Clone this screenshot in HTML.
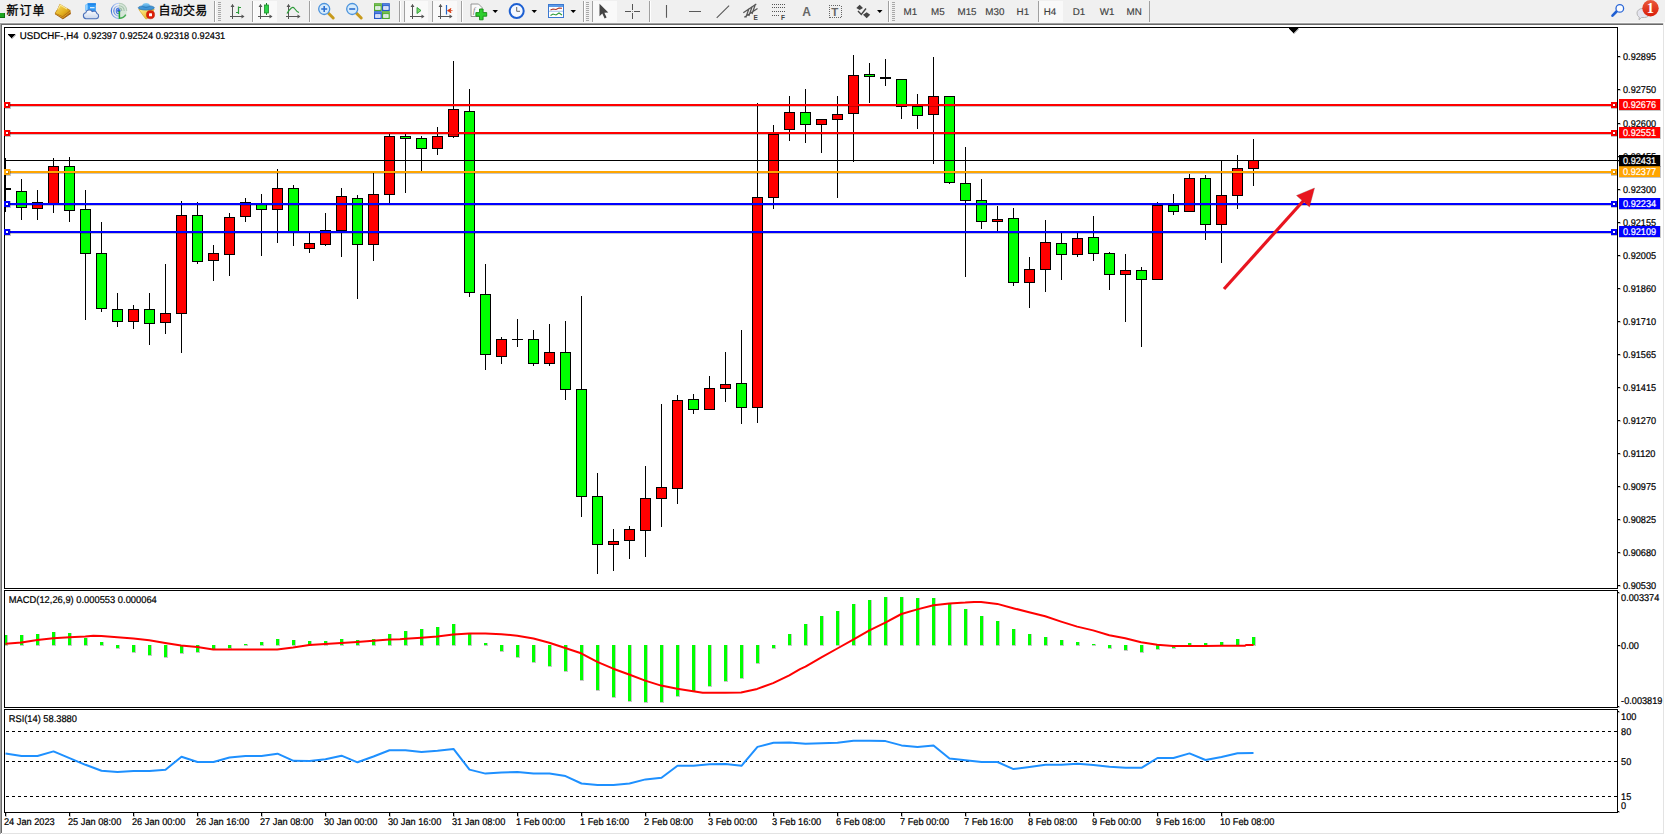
<!DOCTYPE html>
<html><head><meta charset="utf-8"><title>USDCHF-,H4</title>
<style>html,body{margin:0;padding:0;background:#fff;overflow:hidden}svg{display:block;font-family:"Liberation Sans","Noto Sans CJK SC",sans-serif}</style>
</head><body>
<svg width="1665" height="835" viewBox="0 0 1665 835">
<rect width="1665" height="835" fill="#fff"/>
<rect x="0" y="0" width="1665" height="23" fill="#f0f0f0"/>
<rect x="0" y="22" width="1665" height="1" fill="#f8f8f8"/>
<rect x="0" y="23" width="1663" height="1" fill="#a0a0a0"/>
<rect x="1" y="24" width="1662" height="1" fill="#696969"/>
<rect x="0" y="23" width="1" height="811" fill="#a0a0a0"/>
<rect x="1" y="24" width="1" height="809" fill="#696969"/>
<rect x="1663" y="23" width="1" height="811" fill="#e3e3e3"/>
<rect x="2" y="833" width="1662" height="1" fill="#e3e3e3"/>
<rect x="0" y="13" width="4" height="4" fill="#1fa51f"/><rect x="0" y="17" width="4" height="1" fill="#0f6f0f"/><rect x="4" y="13" width="1" height="5" fill="#0f6f0f"/>
<text x="6.5" y="14.8" font-size="12" fill="#000" letter-spacing="1.0" stroke="#000" stroke-width="0.3" font-family="Liberation Sans, Noto Sans CJK SC, sans-serif">新订单</text>
<defs><linearGradient id="gold" x1="0" y1="0" x2="1" y2="1"><stop offset="0" stop-color="#fbe36a"/><stop offset="0.6" stop-color="#e3b020"/><stop offset="1" stop-color="#b87510"/></linearGradient><linearGradient id="badge" x1="0" y1="0" x2="0" y2="1"><stop offset="0" stop-color="#ea5a3c"/><stop offset="1" stop-color="#d91c08"/></linearGradient><linearGradient id="hat" x1="0" y1="0" x2="0" y2="1"><stop offset="0" stop-color="#8fd0f5"/><stop offset="1" stop-color="#2d8fd6"/></linearGradient></defs>
<path d="M59.9 4.3 L70.3 10.4 L70.9 13.6 L62.9 18.9 L55 13.8 z" fill="#b06a10"/>
<path d="M59.9 4.3 L70.3 10.4 L62.7 16.6 L55 13.2 Q58.5 9 59.9 4.3 z" fill="url(#gold)" stroke="#b5780f" stroke-width="0.5"/>
<path d="M55.3 13.9 L62.8 17.6 L70.5 11.6" stroke="#e8b030" stroke-width="0.8" fill="none"/><path d="M55 13.8 L62.9 18.9 L70.9 13.6" stroke="#94560a" stroke-width="0.7" fill="none"/><path d="M57.5 9.5 Q59.5 7 60.3 5 L67 9" stroke="#fff3a8" stroke-width="1.2" fill="none" opacity=".8"/>
<path d="M85.3 5 L87.8 3.2 L95.8 3.2 L95.8 11 L87.6 11.5 L85.3 10.5 z" fill="#2f9af5"/>
<path d="M85.3 5 L87.8 3.2 L87.6 11.5 L85.3 10.5 z" fill="#9ad4ff"/>
<path d="M87.8 3.2 L95.8 3.2 L95.8 5.2 L87.7 5.2 z" fill="#1f86ea"/>
<rect x="90" y="7" width="4.6" height="1.3" fill="#d8efff"/>
<defs><linearGradient id="cloud" x1="0" y1="0" x2="0" y2="1"><stop offset="0" stop-color="#ffffff"/><stop offset="1" stop-color="#c9d6ec"/></linearGradient></defs>
<path d="M86 18.7 a3 3 0 0 1 -0.3 -5.9 a3.6 3.6 0 0 1 6.6 -1.2 a3 3 0 0 1 4.6 1.9 a2.7 2.7 0 0 1 -0.6 5.2 z" fill="url(#cloud)" stroke="#4a6fb8" stroke-width="1.1"/>
<defs><linearGradient id="sigL" x1="0" y1="0" x2="0" y2="1"><stop offset="0" stop-color="#b9cdf2"/><stop offset="0.5" stop-color="#3a6fd8"/><stop offset="1" stop-color="#9db8ec"/></linearGradient></defs>
<path d="M119 3 a7.9 7.9 0 0 1 0 15.8 z" fill="#cfe3d3" opacity=".75"/>
<g fill="none" stroke-width="1.1"><path d="M119 3.2 a7.7 7.7 0 0 0 0 15.4" stroke="url(#sigL)"/><path d="M119 5.7 a5.2 5.2 0 0 0 0 10.4" stroke="url(#sigL)"/><path d="M119 8.1 a2.8 2.8 0 0 0 0 5.6" stroke="#4a7be0"/><path d="M119 3.2 a7.7 7.7 0 0 1 7.7 7.7" stroke="#b5cdb9"/><path d="M119 5.7 a5.2 5.2 0 0 1 5.2 5.2" stroke="#a5c4ab"/><path d="M119 8.1 a2.8 2.8 0 0 1 2.8 2.8" stroke="#9fbfa6"/></g>
<path d="M119.4 18.3 A7.4 7.4 0 0 0 125.8 14.6" stroke="#35a545" stroke-width="1.5" fill="none" opacity=".9"/>
<circle cx="118.8" cy="10.7" r="1.7" fill="#2a5fd4"/><path d="M119.4 11 V18.8" stroke="#22a535" stroke-width="1.5" fill="none"/>
<defs><linearGradient id="yel" x1="0" y1="0" x2="1" y2="1"><stop offset="0" stop-color="#fff08a"/><stop offset="1" stop-color="#e2a818"/></linearGradient></defs>
<path d="M138.8 9.5 L154.2 9.5 L147.2 18.8 L145.6 18.8 z" fill="url(#yel)" stroke="#d09a10" stroke-width="0.6"/>
<ellipse cx="146.3" cy="7.8" rx="8.1" ry="2.3" fill="#3f95d6" stroke="#2a6fa8" stroke-width="0.6"/><ellipse cx="146.1" cy="5.4" rx="3.7" ry="2.5" fill="url(#hat)"/><path d="M142.4 6.4 Q146 8.6 149.8 6.4" stroke="#2a6fa8" stroke-width="0.6" fill="none"/>
<circle cx="150.5" cy="14.7" r="4.1" fill="#dc2008" stroke="#b81a05" stroke-width="0.5"/><rect x="149" y="13.2" width="3" height="3" rx="0.5" fill="#fff"/>
<text x="158.6" y="14.8" font-size="12" fill="#000" letter-spacing="0.25" stroke="#000" stroke-width="0.3" font-family="Liberation Sans, Noto Sans CJK SC, sans-serif">自动交易</text>
<rect x="214" y="1" width="1" height="21" fill="#a0a0a0"/><rect x="215" y="1" width="1" height="21" fill="#fff"/>
<rect x="218" y="2" width="3" height="1" fill="#a8a8a8"/>
<rect x="218" y="4" width="3" height="1" fill="#a8a8a8"/>
<rect x="218" y="6" width="3" height="1" fill="#a8a8a8"/>
<rect x="218" y="8" width="3" height="1" fill="#a8a8a8"/>
<rect x="218" y="10" width="3" height="1" fill="#a8a8a8"/>
<rect x="218" y="12" width="3" height="1" fill="#a8a8a8"/>
<rect x="218" y="14" width="3" height="1" fill="#a8a8a8"/>
<rect x="218" y="16" width="3" height="1" fill="#a8a8a8"/>
<rect x="218" y="18" width="3" height="1" fill="#a8a8a8"/>
<rect x="218" y="20" width="3" height="1" fill="#a8a8a8"/>
<path d="M232.5 19 V4.5 M230.0 16.5 H243.5" stroke="#555" stroke-width="1" fill="none"/>
<path d="M230.5 7 L232.5 4 L234.5 7 z M241.5 14.5 L244.5 16.5 L241.5 18.5 z" fill="#555"/>
<path d="M238.5 6.5 V14 M236 12.5 H238.5 M238.5 7.5 H241" stroke="#2e9b3a" stroke-width="1.2" fill="none"/>
<rect x="252" y="1" width="1" height="21" fill="#a0a0a0"/><rect x="253" y="1" width="1" height="21" fill="#fff"/>
<rect x="254" y="1" width="23" height="21" fill="#f9f9f9"/>
<path d="M260.5 19 V4.5 M258.0 16.5 H271.5" stroke="#555" stroke-width="1" fill="none"/>
<path d="M258.5 7 L260.5 4 L262.5 7 z M269.5 14.5 L272.5 16.5 L269.5 18.5 z" fill="#555"/>
<path d="M266.5 3 V15" stroke="#1d7a2a" stroke-width="1"/><rect x="264.5" y="5" width="4" height="8" fill="#2fd44a" stroke="#1d8a2a" stroke-width="0.8"/>
<path d="M288.5 19 V4.5 M286.0 16.5 H299.5" stroke="#555" stroke-width="1" fill="none"/>
<path d="M286.5 7 L288.5 4 L290.5 7 z M297.5 14.5 L300.5 16.5 L297.5 18.5 z" fill="#555"/>
<path d="M287 13.5 Q292 5 294.5 8.5 T299 12.5" stroke="#2e9b3a" stroke-width="1.2" fill="none"/>
<rect x="309" y="1" width="1" height="21" fill="#a0a0a0"/><rect x="310" y="1" width="1" height="21" fill="#fff"/>
<path d="M328.2 13 L333.2 18" stroke="#c79a1c" stroke-width="3" stroke-linecap="round"/>
<circle cx="324.2" cy="9" r="5.5" fill="#d6ebfb" stroke="#4c93dc" stroke-width="1.3"/>
<path d="M321.2 9 H327.2 M324.2 6 V12" stroke="#2b6fd0" stroke-width="1.6"/>
<path d="M356.2 13 L361.2 18" stroke="#c79a1c" stroke-width="3" stroke-linecap="round"/>
<circle cx="352.2" cy="9" r="5.5" fill="#d6ebfb" stroke="#4c93dc" stroke-width="1.3"/>
<path d="M349.2 9 H355.2" stroke="#2b6fd0" stroke-width="1.6"/>
<rect x="374" y="3.2" width="7.8" height="7.8" fill="#4fa62d"/><rect x="374.6" y="3.8000000000000003" width="6.6" height="1.6" fill="#8fd06a" opacity=".6"/><rect x="375.2" y="6.2" width="5.4" height="3.6" fill="#f4f7ff"/><rect x="376.2" y="7.6000000000000005" width="3.4" height="0.8" fill="#4fa62d" opacity=".45"/>
<rect x="382" y="3.2" width="7.8" height="7.8" fill="#2457c8"/><rect x="382.6" y="3.8000000000000003" width="6.6" height="1.6" fill="#6f9cf0" opacity=".6"/><rect x="383.2" y="6.2" width="5.4" height="3.6" fill="#f4f7ff"/><rect x="384.2" y="7.6000000000000005" width="3.4" height="0.8" fill="#2457c8" opacity=".45"/>
<rect x="374" y="11.2" width="7.8" height="7.8" fill="#2457c8"/><rect x="374.6" y="11.799999999999999" width="6.6" height="1.6" fill="#6f9cf0" opacity=".6"/><rect x="375.2" y="14.2" width="5.4" height="3.6" fill="#f4f7ff"/><rect x="376.2" y="15.6" width="3.4" height="0.8" fill="#2457c8" opacity=".45"/>
<rect x="382" y="11.2" width="7.8" height="7.8" fill="#4fa62d"/><rect x="382.6" y="11.799999999999999" width="6.6" height="1.6" fill="#8fd06a" opacity=".6"/><rect x="383.2" y="14.2" width="5.4" height="3.6" fill="#f4f7ff"/><rect x="384.2" y="15.6" width="3.4" height="0.8" fill="#4fa62d" opacity=".45"/>
<rect x="399" y="1" width="1" height="21" fill="#a0a0a0"/><rect x="400" y="1" width="1" height="21" fill="#fff"/>
<rect x="404" y="1" width="1" height="21" fill="#a0a0a0"/>
<rect x="405" y="1" width="23" height="21" fill="#f9f9f9"/>
<path d="M412.5 19 V4.5 M410.0 16.5 H423.5" stroke="#555" stroke-width="1" fill="none"/>
<path d="M410.5 7 L412.5 4 L414.5 7 z M421.5 14.5 L424.5 16.5 L421.5 18.5 z" fill="#555"/>
<path d="M417 7.5 L421 10.5 L417 13.5 z" fill="#7fdc6a" stroke="#2e9b3a" stroke-width="0.9"/>
<rect x="432" y="1" width="1" height="21" fill="#a0a0a0"/><rect x="433" y="1" width="1" height="21" fill="#fff"/>
<rect x="433" y="1" width="24" height="21" fill="#f9f9f9"/>
<path d="M440.5 19 V4.5 M438.0 16.5 H451.5" stroke="#555" stroke-width="1" fill="none"/>
<path d="M438.5 7 L440.5 4 L442.5 7 z M449.5 14.5 L452.5 16.5 L449.5 18.5 z" fill="#555"/>
<path d="M446.5 5 V14.5" stroke="#2468c8" stroke-width="1.2"/><path d="M447.5 10.6 L451 8.5 L450 10.6 L451 12.8 z M449 10.6 H452.5" fill="#d83a10" stroke="#d83a10" stroke-width="0.8"/>
<rect x="461" y="1" width="1" height="21" fill="#a0a0a0"/><rect x="462" y="1" width="1" height="21" fill="#fff"/>
<path d="M471 4 H478.5 L482 7.5 V16.5 H471 z" fill="#fafafa" stroke="#8a8a8a" stroke-width="0.9"/><text x="473" y="13" font-size="8" font-style="italic" fill="#777" font-family="Liberation Serif, serif">f</text>
<path d="M479.5 9 h3.6 v3.6 h3.6 v3.6 h-3.6 v3.6 h-3.6 v-3.6 h-3.6 v-3.6 h3.6 z" fill="#2fcf2f" stroke="#168a16" stroke-width="0.9"/>
<path d="M492.5 10 h5.5 l-2.75 3 z" fill="#000"/>
<circle cx="516.7" cy="11.1" r="7" fill="#f4f8ff" stroke="#1c5fd2" stroke-width="2"/><path d="M516.7 7 V11.3 H520" stroke="#666" stroke-width="1" fill="none"/>
<path d="M531.5 10 h5.5 l-2.75 3 z" fill="#000"/>
<rect x="548.5" y="4.5" width="15" height="13" fill="#fff" stroke="#3b78d0" stroke-width="1"/><rect x="549" y="5" width="14" height="2" fill="#5c9be8"/><rect x="549" y="10.8" width="14" height="0.8" fill="#8fb4e8"/>
<path d="M550.5 10 L553 9 L556 9.5 L559 8 L562 8.3" stroke="#b03020" stroke-width="1.1" fill="none"/><path d="M550.5 15.5 L553 14 L556 15 L559 13 L562 15" stroke="#2e9b3a" stroke-width="1.1" fill="none"/>
<path d="M570.5 10 h5.5 l-2.75 3 z" fill="#000"/>
<rect x="583" y="1" width="1" height="21" fill="#a0a0a0"/><rect x="584" y="1" width="1" height="21" fill="#fff"/>
<rect x="586" y="2" width="3" height="1" fill="#a8a8a8"/>
<rect x="586" y="4" width="3" height="1" fill="#a8a8a8"/>
<rect x="586" y="6" width="3" height="1" fill="#a8a8a8"/>
<rect x="586" y="8" width="3" height="1" fill="#a8a8a8"/>
<rect x="586" y="10" width="3" height="1" fill="#a8a8a8"/>
<rect x="586" y="12" width="3" height="1" fill="#a8a8a8"/>
<rect x="586" y="14" width="3" height="1" fill="#a8a8a8"/>
<rect x="586" y="16" width="3" height="1" fill="#a8a8a8"/>
<rect x="586" y="18" width="3" height="1" fill="#a8a8a8"/>
<rect x="586" y="20" width="3" height="1" fill="#a8a8a8"/>
<rect x="592" y="1" width="1" height="21" fill="#a0a0a0"/>
<rect x="593" y="1" width="24" height="21" fill="#f9f9f9"/>
<path d="M599.5 3.8 V16.2 L602.3 13.6 L604.6 18.4 L606.6 17.5 L604.4 12.8 L608.3 12.6 z" fill="#444"/>
<path d="M625 11.5 H631 M634 11.5 H640 M632.5 4 V10 M632.5 13 V19" stroke="#555" stroke-width="1"/><rect x="632" y="11" width="1" height="1" fill="#999"/>
<rect x="649" y="1" width="1" height="21" fill="#a0a0a0"/><rect x="650" y="1" width="1" height="21" fill="#fff"/>
<path d="M666.5 5 V17.7 M689 11.5 H701 M716.7 17.9 L729.1 5.7" stroke="#5a5a5a" stroke-width="1.1" fill="none"/>
<path d="M743.3 12.8 L756.3 4 M744.3 17.3 L757.5 8.6 M745.8 17.5 L749 8.5 M748.8 16 L752.2 6.5 M752 14 L755.3 4.5" stroke="#555" stroke-width="1.25" fill="none"/><text x="753.5" y="19.5" font-size="6.5" font-weight="bold" fill="#444" font-family="Liberation Sans, sans-serif">E</text>
<path d="M772 4.5 h13" stroke="#555" stroke-width="1" stroke-dasharray="1 1" shape-rendering="crispEdges"/>
<path d="M772 7.5 h13" stroke="#555" stroke-width="1" stroke-dasharray="1 1" shape-rendering="crispEdges"/>
<path d="M772 11.5 h13" stroke="#555" stroke-width="1" stroke-dasharray="1 1" shape-rendering="crispEdges"/>
<path d="M772 15.5 h8" stroke="#555" stroke-width="1" stroke-dasharray="1 1" shape-rendering="crispEdges"/>
<text x="781" y="19.5" font-size="6.5" font-weight="bold" fill="#444" font-family="Liberation Sans, sans-serif">F</text>
<text x="802.3" y="15.8" font-size="12" font-weight="bold" fill="#666" font-family="Liberation Sans, sans-serif">A</text>
<rect x="829" y="5.5" width="12" height="12" fill="none" stroke="#666" stroke-width="1" stroke-dasharray="1 1" shape-rendering="crispEdges"/><text x="831.3" y="15.8" font-size="11.5" font-weight="bold" fill="#666" font-family="Liberation Sans, sans-serif">T</text>
<path d="M856.3 8 L859.7 4.8 L863 8 L859.7 10 z M863 14.8 L866.7 12.3 L870.2 14.8 L866.7 18.3 z" fill="#444"/><path d="M858 11 L861.3 14.5 L866 8.5" stroke="#444" stroke-width="1.4" fill="none"/>
<path d="M877 10 h5.5 l-2.75 3 z" fill="#000"/>
<rect x="888" y="1" width="1" height="21" fill="#a0a0a0"/><rect x="889" y="1" width="1" height="21" fill="#fff"/>
<rect x="892" y="2" width="3" height="1" fill="#a8a8a8"/>
<rect x="892" y="4" width="3" height="1" fill="#a8a8a8"/>
<rect x="892" y="6" width="3" height="1" fill="#a8a8a8"/>
<rect x="892" y="8" width="3" height="1" fill="#a8a8a8"/>
<rect x="892" y="10" width="3" height="1" fill="#a8a8a8"/>
<rect x="892" y="12" width="3" height="1" fill="#a8a8a8"/>
<rect x="892" y="14" width="3" height="1" fill="#a8a8a8"/>
<rect x="892" y="16" width="3" height="1" fill="#a8a8a8"/>
<rect x="892" y="18" width="3" height="1" fill="#a8a8a8"/>
<rect x="892" y="20" width="3" height="1" fill="#a8a8a8"/>
<rect x="1039" y="1" width="24" height="21" fill="#f9f9f9"/>
<rect x="1038" y="1" width="1" height="21" fill="#a0a0a0"/>
<rect x="1149" y="1" width="1" height="21" fill="#a0a0a0"/>
<text x="903.5" y="15" font-size="9.8" fill="#404040" stroke="#404040" stroke-width="0.15" text-rendering="geometricPrecision" font-family="Liberation Sans, sans-serif">M1</text>
<text x="931" y="15" font-size="9.8" fill="#404040" stroke="#404040" stroke-width="0.15" text-rendering="geometricPrecision" font-family="Liberation Sans, sans-serif">M5</text>
<text x="957.5" y="15" font-size="9.8" fill="#404040" stroke="#404040" stroke-width="0.15" text-rendering="geometricPrecision" font-family="Liberation Sans, sans-serif">M15</text>
<text x="985.3" y="15" font-size="9.8" fill="#404040" stroke="#404040" stroke-width="0.15" text-rendering="geometricPrecision" font-family="Liberation Sans, sans-serif">M30</text>
<text x="1016.6" y="15" font-size="9.8" fill="#404040" stroke="#404040" stroke-width="0.15" text-rendering="geometricPrecision" font-family="Liberation Sans, sans-serif">H1</text>
<text x="1043.7" y="15" font-size="9.8" fill="#404040" stroke="#404040" stroke-width="0.15" text-rendering="geometricPrecision" font-family="Liberation Sans, sans-serif">H4</text>
<text x="1072.7" y="15" font-size="9.8" fill="#404040" stroke="#404040" stroke-width="0.15" text-rendering="geometricPrecision" font-family="Liberation Sans, sans-serif">D1</text>
<text x="1099.8" y="15" font-size="9.8" fill="#404040" stroke="#404040" stroke-width="0.15" text-rendering="geometricPrecision" font-family="Liberation Sans, sans-serif">W1</text>
<text x="1126.5" y="15" font-size="9.8" fill="#404040" stroke="#404040" stroke-width="0.15" text-rendering="geometricPrecision" font-family="Liberation Sans, sans-serif">MN</text>
<path d="M1616.5 11.5 L1612.5 15.7" stroke="#1f5fd2" stroke-width="2.6" stroke-linecap="round"/><circle cx="1619.8" cy="8.4" r="3.8" fill="#fafcff" stroke="#2a66d6" stroke-width="1.3"/>
<path d="M1637 13 a5.5 4.5 0 0 1 5.5 -4.5 h2 a5.5 4.5 0 0 1 0 9 h-3 l-2.5 2.3 l0.3 -2.6 a5 4.5 0 0 1 -2.3 -4.2 z" fill="#e4e4ee" stroke="#aaa" stroke-width="0.8"/>
<circle cx="1650.5" cy="8.3" r="8.2" fill="url(#badge)"/><text x="1650.4" y="13.1" font-size="14.5" font-weight="bold" fill="#fff" text-anchor="middle" font-family="Liberation Serif, serif">1</text>
<g shape-rendering="crispEdges">
<rect x="4" y="27" width="1614" height="1" fill="#000"/>
<rect x="4" y="588" width="1614" height="1" fill="#000"/>
<rect x="4" y="27" width="1" height="562" fill="#000"/>
<rect x="1617" y="27" width="1" height="562" fill="#000"/>
<rect x="4" y="590" width="1614" height="1" fill="#000"/>
<rect x="4" y="707" width="1614" height="1" fill="#000"/>
<rect x="4" y="590" width="1" height="118" fill="#000"/>
<rect x="1617" y="590" width="1" height="118" fill="#000"/>
<rect x="4" y="709" width="1614" height="1" fill="#000"/>
<rect x="4" y="812" width="1614" height="1" fill="#000"/>
<rect x="4" y="709" width="1" height="104" fill="#000"/>
<rect x="1617" y="709" width="1" height="104" fill="#000"/>
<g id="candles">
<rect x="5" y="158" width="1" height="54" fill="#000"/>
<rect x="5" y="188" width="6" height="2" fill="#000"/>
<rect x="21" y="179" width="1" height="41" fill="#000"/>
<rect x="16" y="191" width="11" height="17" fill="#000"/>
<rect x="17" y="192" width="9" height="15" fill="#00ff00"/>
<rect x="37" y="190" width="1" height="30" fill="#000"/>
<rect x="32" y="202" width="11" height="7" fill="#000"/>
<rect x="33" y="203" width="9" height="5" fill="#ff0000"/>
<rect x="53" y="158" width="1" height="55" fill="#000"/>
<rect x="48" y="166" width="11" height="38" fill="#000"/>
<rect x="49" y="167" width="9" height="36" fill="#ff0000"/>
<rect x="69" y="157" width="1" height="65" fill="#000"/>
<rect x="64" y="166" width="11" height="45" fill="#000"/>
<rect x="65" y="167" width="9" height="43" fill="#00ff00"/>
<rect x="85" y="190" width="1" height="130" fill="#000"/>
<rect x="80" y="209" width="11" height="45" fill="#000"/>
<rect x="81" y="210" width="9" height="43" fill="#00ff00"/>
<rect x="101" y="222" width="1" height="90" fill="#000"/>
<rect x="96" y="253" width="11" height="56" fill="#000"/>
<rect x="97" y="254" width="9" height="54" fill="#00ff00"/>
<rect x="117" y="293" width="1" height="34" fill="#000"/>
<rect x="112" y="309" width="11" height="13" fill="#000"/>
<rect x="113" y="310" width="9" height="11" fill="#00ff00"/>
<rect x="133" y="305" width="1" height="24" fill="#000"/>
<rect x="128" y="309" width="11" height="13" fill="#000"/>
<rect x="129" y="310" width="9" height="11" fill="#ff0000"/>
<rect x="149" y="293" width="1" height="52" fill="#000"/>
<rect x="144" y="309" width="11" height="15" fill="#000"/>
<rect x="145" y="310" width="9" height="13" fill="#00ff00"/>
<rect x="165" y="264" width="1" height="70" fill="#000"/>
<rect x="160" y="313" width="11" height="10" fill="#000"/>
<rect x="161" y="314" width="9" height="8" fill="#ff0000"/>
<rect x="181" y="201" width="1" height="152" fill="#000"/>
<rect x="176" y="215" width="11" height="99" fill="#000"/>
<rect x="177" y="216" width="9" height="97" fill="#ff0000"/>
<rect x="197" y="202" width="1" height="62" fill="#000"/>
<rect x="192" y="215" width="11" height="47" fill="#000"/>
<rect x="193" y="216" width="9" height="45" fill="#00ff00"/>
<rect x="213" y="245" width="1" height="36" fill="#000"/>
<rect x="208" y="253" width="11" height="8" fill="#000"/>
<rect x="209" y="254" width="9" height="6" fill="#ff0000"/>
<rect x="229" y="213" width="1" height="63" fill="#000"/>
<rect x="224" y="217" width="11" height="38" fill="#000"/>
<rect x="225" y="218" width="9" height="36" fill="#ff0000"/>
<rect x="245" y="198" width="1" height="24" fill="#000"/>
<rect x="240" y="202" width="11" height="15" fill="#000"/>
<rect x="241" y="203" width="9" height="13" fill="#ff0000"/>
<rect x="261" y="194" width="1" height="62" fill="#000"/>
<rect x="256" y="203" width="11" height="7" fill="#000"/>
<rect x="257" y="204" width="9" height="5" fill="#00ff00"/>
<rect x="277" y="169" width="1" height="74" fill="#000"/>
<rect x="272" y="188" width="11" height="22" fill="#000"/>
<rect x="273" y="189" width="9" height="20" fill="#ff0000"/>
<rect x="293" y="185" width="1" height="61" fill="#000"/>
<rect x="288" y="188" width="11" height="44" fill="#000"/>
<rect x="289" y="189" width="9" height="42" fill="#00ff00"/>
<rect x="309" y="232" width="1" height="21" fill="#000"/>
<rect x="304" y="243" width="11" height="6" fill="#000"/>
<rect x="305" y="244" width="9" height="4" fill="#ff0000"/>
<rect x="325" y="213" width="1" height="33" fill="#000"/>
<rect x="320" y="230" width="11" height="15" fill="#000"/>
<rect x="321" y="231" width="9" height="13" fill="#ff0000"/>
<rect x="341" y="188" width="1" height="69" fill="#000"/>
<rect x="336" y="196" width="11" height="35" fill="#000"/>
<rect x="337" y="197" width="9" height="33" fill="#ff0000"/>
<rect x="357" y="195" width="1" height="104" fill="#000"/>
<rect x="352" y="198" width="11" height="47" fill="#000"/>
<rect x="353" y="199" width="9" height="45" fill="#00ff00"/>
<rect x="373" y="173" width="1" height="88" fill="#000"/>
<rect x="368" y="194" width="11" height="51" fill="#000"/>
<rect x="369" y="195" width="9" height="49" fill="#ff0000"/>
<rect x="389" y="134" width="1" height="69" fill="#000"/>
<rect x="384" y="136" width="11" height="59" fill="#000"/>
<rect x="385" y="137" width="9" height="57" fill="#ff0000"/>
<rect x="405" y="134" width="1" height="59" fill="#000"/>
<rect x="400" y="136" width="11" height="3" fill="#000"/>
<rect x="401" y="137" width="9" height="1" fill="#00ff00"/>
<rect x="421" y="136" width="1" height="35" fill="#000"/>
<rect x="416" y="138" width="11" height="11" fill="#000"/>
<rect x="417" y="139" width="9" height="9" fill="#00ff00"/>
<rect x="437" y="127" width="1" height="28" fill="#000"/>
<rect x="432" y="136" width="11" height="13" fill="#000"/>
<rect x="433" y="137" width="9" height="11" fill="#ff0000"/>
<rect x="453" y="61" width="1" height="77" fill="#000"/>
<rect x="448" y="109" width="11" height="28" fill="#000"/>
<rect x="449" y="110" width="9" height="26" fill="#ff0000"/>
<rect x="469" y="89" width="1" height="208" fill="#000"/>
<rect x="464" y="111" width="11" height="182" fill="#000"/>
<rect x="465" y="112" width="9" height="180" fill="#00ff00"/>
<rect x="485" y="264" width="1" height="106" fill="#000"/>
<rect x="480" y="294" width="11" height="61" fill="#000"/>
<rect x="481" y="295" width="9" height="59" fill="#00ff00"/>
<rect x="501" y="337" width="1" height="27" fill="#000"/>
<rect x="496" y="339" width="11" height="18" fill="#000"/>
<rect x="497" y="340" width="9" height="16" fill="#ff0000"/>
<rect x="517" y="319" width="1" height="28" fill="#000"/>
<rect x="512" y="339" width="11" height="1" fill="#000"/>
<rect x="533" y="330" width="1" height="36" fill="#000"/>
<rect x="528" y="339" width="11" height="25" fill="#000"/>
<rect x="529" y="340" width="9" height="23" fill="#00ff00"/>
<rect x="549" y="324" width="1" height="42" fill="#000"/>
<rect x="544" y="352" width="11" height="12" fill="#000"/>
<rect x="545" y="353" width="9" height="10" fill="#ff0000"/>
<rect x="565" y="321" width="1" height="79" fill="#000"/>
<rect x="560" y="352" width="11" height="38" fill="#000"/>
<rect x="561" y="353" width="9" height="36" fill="#00ff00"/>
<rect x="581" y="296" width="1" height="221" fill="#000"/>
<rect x="576" y="389" width="11" height="108" fill="#000"/>
<rect x="577" y="390" width="9" height="106" fill="#00ff00"/>
<rect x="597" y="473" width="1" height="101" fill="#000"/>
<rect x="592" y="496" width="11" height="49" fill="#000"/>
<rect x="593" y="497" width="9" height="47" fill="#00ff00"/>
<rect x="613" y="529" width="1" height="42" fill="#000"/>
<rect x="608" y="541" width="11" height="4" fill="#000"/>
<rect x="609" y="542" width="9" height="2" fill="#ff0000"/>
<rect x="629" y="526" width="1" height="33" fill="#000"/>
<rect x="624" y="529" width="11" height="12" fill="#000"/>
<rect x="625" y="530" width="9" height="10" fill="#ff0000"/>
<rect x="645" y="466" width="1" height="91" fill="#000"/>
<rect x="640" y="498" width="11" height="33" fill="#000"/>
<rect x="641" y="499" width="9" height="31" fill="#ff0000"/>
<rect x="661" y="404" width="1" height="123" fill="#000"/>
<rect x="656" y="487" width="11" height="12" fill="#000"/>
<rect x="657" y="488" width="9" height="10" fill="#ff0000"/>
<rect x="677" y="395" width="1" height="109" fill="#000"/>
<rect x="672" y="400" width="11" height="89" fill="#000"/>
<rect x="673" y="401" width="9" height="87" fill="#ff0000"/>
<rect x="693" y="394" width="1" height="20" fill="#000"/>
<rect x="688" y="399" width="11" height="11" fill="#000"/>
<rect x="689" y="400" width="9" height="9" fill="#00ff00"/>
<rect x="709" y="376" width="1" height="34" fill="#000"/>
<rect x="704" y="388" width="11" height="22" fill="#000"/>
<rect x="705" y="389" width="9" height="20" fill="#ff0000"/>
<rect x="725" y="352" width="1" height="50" fill="#000"/>
<rect x="720" y="384" width="11" height="5" fill="#000"/>
<rect x="721" y="385" width="9" height="3" fill="#ff0000"/>
<rect x="741" y="330" width="1" height="94" fill="#000"/>
<rect x="736" y="383" width="11" height="25" fill="#000"/>
<rect x="737" y="384" width="9" height="23" fill="#00ff00"/>
<rect x="757" y="103" width="1" height="320" fill="#000"/>
<rect x="752" y="197" width="11" height="211" fill="#000"/>
<rect x="753" y="198" width="9" height="209" fill="#ff0000"/>
<rect x="773" y="125" width="1" height="84" fill="#000"/>
<rect x="768" y="134" width="11" height="64" fill="#000"/>
<rect x="769" y="135" width="9" height="62" fill="#ff0000"/>
<rect x="789" y="96" width="1" height="45" fill="#000"/>
<rect x="784" y="112" width="11" height="18" fill="#000"/>
<rect x="785" y="113" width="9" height="16" fill="#ff0000"/>
<rect x="805" y="89" width="1" height="54" fill="#000"/>
<rect x="800" y="112" width="11" height="13" fill="#000"/>
<rect x="801" y="113" width="9" height="11" fill="#00ff00"/>
<rect x="821" y="119" width="1" height="34" fill="#000"/>
<rect x="816" y="119" width="11" height="6" fill="#000"/>
<rect x="817" y="120" width="9" height="4" fill="#ff0000"/>
<rect x="837" y="96" width="1" height="102" fill="#000"/>
<rect x="832" y="114" width="11" height="6" fill="#000"/>
<rect x="833" y="115" width="9" height="4" fill="#ff0000"/>
<rect x="853" y="55" width="1" height="107" fill="#000"/>
<rect x="848" y="75" width="11" height="39" fill="#000"/>
<rect x="849" y="76" width="9" height="37" fill="#ff0000"/>
<rect x="869" y="63" width="1" height="40" fill="#000"/>
<rect x="864" y="74" width="11" height="3" fill="#000"/>
<rect x="865" y="75" width="9" height="1" fill="#00ff00"/>
<rect x="885" y="59" width="1" height="27" fill="#000"/>
<rect x="880" y="77" width="11" height="2" fill="#000"/>
<rect x="901" y="79" width="1" height="40" fill="#000"/>
<rect x="896" y="79" width="11" height="28" fill="#000"/>
<rect x="897" y="80" width="9" height="26" fill="#00ff00"/>
<rect x="917" y="94" width="1" height="35" fill="#000"/>
<rect x="912" y="106" width="11" height="10" fill="#000"/>
<rect x="913" y="107" width="9" height="8" fill="#00ff00"/>
<rect x="933" y="57" width="1" height="107" fill="#000"/>
<rect x="928" y="96" width="11" height="19" fill="#000"/>
<rect x="929" y="97" width="9" height="17" fill="#ff0000"/>
<rect x="949" y="96" width="1" height="88" fill="#000"/>
<rect x="944" y="96" width="11" height="87" fill="#000"/>
<rect x="945" y="97" width="9" height="85" fill="#00ff00"/>
<rect x="965" y="147" width="1" height="130" fill="#000"/>
<rect x="960" y="183" width="11" height="18" fill="#000"/>
<rect x="961" y="184" width="9" height="16" fill="#00ff00"/>
<rect x="981" y="179" width="1" height="50" fill="#000"/>
<rect x="976" y="200" width="11" height="22" fill="#000"/>
<rect x="977" y="201" width="9" height="20" fill="#00ff00"/>
<rect x="997" y="206" width="1" height="25" fill="#000"/>
<rect x="992" y="219" width="11" height="3" fill="#000"/>
<rect x="993" y="220" width="9" height="1" fill="#ff0000"/>
<rect x="1013" y="208" width="1" height="78" fill="#000"/>
<rect x="1008" y="218" width="11" height="65" fill="#000"/>
<rect x="1009" y="219" width="9" height="63" fill="#00ff00"/>
<rect x="1029" y="257" width="1" height="51" fill="#000"/>
<rect x="1024" y="269" width="11" height="14" fill="#000"/>
<rect x="1025" y="270" width="9" height="12" fill="#ff0000"/>
<rect x="1045" y="220" width="1" height="72" fill="#000"/>
<rect x="1040" y="242" width="11" height="28" fill="#000"/>
<rect x="1041" y="243" width="9" height="26" fill="#ff0000"/>
<rect x="1061" y="233" width="1" height="47" fill="#000"/>
<rect x="1056" y="243" width="11" height="12" fill="#000"/>
<rect x="1057" y="244" width="9" height="10" fill="#00ff00"/>
<rect x="1077" y="233" width="1" height="24" fill="#000"/>
<rect x="1072" y="238" width="11" height="17" fill="#000"/>
<rect x="1073" y="239" width="9" height="15" fill="#ff0000"/>
<rect x="1093" y="216" width="1" height="45" fill="#000"/>
<rect x="1088" y="237" width="11" height="17" fill="#000"/>
<rect x="1089" y="238" width="9" height="15" fill="#00ff00"/>
<rect x="1109" y="252" width="1" height="38" fill="#000"/>
<rect x="1104" y="253" width="11" height="22" fill="#000"/>
<rect x="1105" y="254" width="9" height="20" fill="#00ff00"/>
<rect x="1125" y="254" width="1" height="68" fill="#000"/>
<rect x="1120" y="270" width="11" height="5" fill="#000"/>
<rect x="1121" y="271" width="9" height="3" fill="#ff0000"/>
<rect x="1141" y="267" width="1" height="80" fill="#000"/>
<rect x="1136" y="270" width="11" height="10" fill="#000"/>
<rect x="1137" y="271" width="9" height="8" fill="#00ff00"/>
<rect x="1157" y="202" width="1" height="78" fill="#000"/>
<rect x="1152" y="205" width="11" height="75" fill="#000"/>
<rect x="1153" y="206" width="9" height="73" fill="#ff0000"/>
<rect x="1173" y="194" width="1" height="21" fill="#000"/>
<rect x="1168" y="205" width="11" height="7" fill="#000"/>
<rect x="1169" y="206" width="9" height="5" fill="#00ff00"/>
<rect x="1189" y="174" width="1" height="38" fill="#000"/>
<rect x="1184" y="178" width="11" height="34" fill="#000"/>
<rect x="1185" y="179" width="9" height="32" fill="#ff0000"/>
<rect x="1205" y="175" width="1" height="65" fill="#000"/>
<rect x="1200" y="178" width="11" height="47" fill="#000"/>
<rect x="1201" y="179" width="9" height="45" fill="#00ff00"/>
<rect x="1221" y="160" width="1" height="103" fill="#000"/>
<rect x="1216" y="195" width="11" height="30" fill="#000"/>
<rect x="1217" y="196" width="9" height="28" fill="#ff0000"/>
<rect x="1237" y="155" width="1" height="54" fill="#000"/>
<rect x="1232" y="168" width="11" height="28" fill="#000"/>
<rect x="1233" y="169" width="9" height="26" fill="#ff0000"/>
<rect x="1253" y="139" width="1" height="47" fill="#000"/>
<rect x="1248" y="160" width="11" height="9" fill="#000"/>
<rect x="1249" y="161" width="9" height="7" fill="#ff0000"/>
</g>
<rect x="5" y="160" width="1612" height="1" fill="#000"/>
</g>
<g font-family="Liberation Sans, sans-serif" stroke="#000" stroke-width="0.22" paint-order="stroke" text-rendering="geometricPrecision">
<rect x="1618" y="56" width="2" height="1" fill="#000" shape-rendering="crispEdges"/>
<text transform="translate(1623,59.8) scale(0.935,1)" font-size="9.8" fill="#000" text-anchor="start">0.92895</text>
<rect x="1618" y="89" width="2" height="1" fill="#000" shape-rendering="crispEdges"/>
<text transform="translate(1623,92.8) scale(0.935,1)" font-size="9.8" fill="#000" text-anchor="start">0.92750</text>
<rect x="1618" y="123" width="2" height="1" fill="#000" shape-rendering="crispEdges"/>
<text transform="translate(1623,126.8) scale(0.935,1)" font-size="9.8" fill="#000" text-anchor="start">0.92600</text>
<rect x="1618" y="156" width="2" height="1" fill="#000" shape-rendering="crispEdges"/>
<text transform="translate(1623,159.8) scale(0.935,1)" font-size="9.8" fill="#000" text-anchor="start">0.92455</text>
<rect x="1618" y="189" width="2" height="1" fill="#000" shape-rendering="crispEdges"/>
<text transform="translate(1623,192.8) scale(0.935,1)" font-size="9.8" fill="#000" text-anchor="start">0.92300</text>
<rect x="1618" y="222" width="2" height="1" fill="#000" shape-rendering="crispEdges"/>
<text transform="translate(1623,225.8) scale(0.935,1)" font-size="9.8" fill="#000" text-anchor="start">0.92155</text>
<rect x="1618" y="255" width="2" height="1" fill="#000" shape-rendering="crispEdges"/>
<text transform="translate(1623,258.8) scale(0.935,1)" font-size="9.8" fill="#000" text-anchor="start">0.92005</text>
<rect x="1618" y="288" width="2" height="1" fill="#000" shape-rendering="crispEdges"/>
<text transform="translate(1623,291.8) scale(0.935,1)" font-size="9.8" fill="#000" text-anchor="start">0.91860</text>
<rect x="1618" y="321" width="2" height="1" fill="#000" shape-rendering="crispEdges"/>
<text transform="translate(1623,324.8) scale(0.935,1)" font-size="9.8" fill="#000" text-anchor="start">0.91710</text>
<rect x="1618" y="354" width="2" height="1" fill="#000" shape-rendering="crispEdges"/>
<text transform="translate(1623,357.8) scale(0.935,1)" font-size="9.8" fill="#000" text-anchor="start">0.91565</text>
<rect x="1618" y="387" width="2" height="1" fill="#000" shape-rendering="crispEdges"/>
<text transform="translate(1623,390.8) scale(0.935,1)" font-size="9.8" fill="#000" text-anchor="start">0.91415</text>
<rect x="1618" y="420" width="2" height="1" fill="#000" shape-rendering="crispEdges"/>
<text transform="translate(1623,423.8) scale(0.935,1)" font-size="9.8" fill="#000" text-anchor="start">0.91270</text>
<rect x="1618" y="453" width="2" height="1" fill="#000" shape-rendering="crispEdges"/>
<text transform="translate(1623,456.8) scale(0.935,1)" font-size="9.8" fill="#000" text-anchor="start">0.91120</text>
<rect x="1618" y="486" width="2" height="1" fill="#000" shape-rendering="crispEdges"/>
<text transform="translate(1623,489.8) scale(0.935,1)" font-size="9.8" fill="#000" text-anchor="start">0.90975</text>
<rect x="1618" y="519" width="2" height="1" fill="#000" shape-rendering="crispEdges"/>
<text transform="translate(1623,522.8) scale(0.935,1)" font-size="9.8" fill="#000" text-anchor="start">0.90825</text>
<rect x="1618" y="552" width="2" height="1" fill="#000" shape-rendering="crispEdges"/>
<text transform="translate(1623,555.8) scale(0.935,1)" font-size="9.8" fill="#000" text-anchor="start">0.90680</text>
<rect x="1618" y="585" width="2" height="1" fill="#000" shape-rendering="crispEdges"/>
<text transform="translate(1623,588.8) scale(0.935,1)" font-size="9.8" fill="#000" text-anchor="start">0.90530</text>
<g shape-rendering="crispEdges">
<rect x="5" y="104" width="1612" height="2" fill="#ff0000"/>
<rect x="4" y="102" width="6" height="6" fill="#ff0000"/>
<rect x="6" y="104" width="2" height="2" fill="#fff"/>
<rect x="1611" y="102" width="6" height="6" fill="#ff0000"/>
<rect x="1613" y="104" width="2" height="2" fill="#fff"/>
<rect x="1619" y="99" width="41" height="11" fill="#ff0000"/>
<rect x="5" y="132" width="1612" height="2" fill="#ff0000"/>
<rect x="4" y="130" width="6" height="6" fill="#ff0000"/>
<rect x="6" y="132" width="2" height="2" fill="#fff"/>
<rect x="1611" y="130" width="6" height="6" fill="#ff0000"/>
<rect x="1613" y="132" width="2" height="2" fill="#fff"/>
<rect x="1619" y="127" width="41" height="11" fill="#ff0000"/>
<rect x="5" y="171" width="1612" height="2" fill="#ffa500"/>
<rect x="4" y="169" width="6" height="6" fill="#ffa500"/>
<rect x="6" y="171" width="2" height="2" fill="#fff"/>
<rect x="1611" y="169" width="6" height="6" fill="#ffa500"/>
<rect x="1613" y="171" width="2" height="2" fill="#fff"/>
<rect x="1619" y="166" width="41" height="11" fill="#ffa500"/>
<rect x="5" y="203" width="1612" height="2" fill="#0000ff"/>
<rect x="4" y="201" width="6" height="6" fill="#0000ff"/>
<rect x="6" y="203" width="2" height="2" fill="#fff"/>
<rect x="1611" y="201" width="6" height="6" fill="#0000ff"/>
<rect x="1613" y="203" width="2" height="2" fill="#fff"/>
<rect x="1619" y="198" width="41" height="11" fill="#0000ff"/>
<rect x="5" y="231" width="1612" height="2" fill="#0000ff"/>
<rect x="4" y="229" width="6" height="6" fill="#0000ff"/>
<rect x="6" y="231" width="2" height="2" fill="#fff"/>
<rect x="1611" y="229" width="6" height="6" fill="#0000ff"/>
<rect x="1613" y="231" width="2" height="2" fill="#fff"/>
<rect x="1619" y="226" width="41" height="11" fill="#0000ff"/>
<rect x="1618" y="160" width="1" height="1" fill="#000"/>
<rect x="1619" y="155" width="41" height="11" fill="#000"/>
</g>
<text transform="translate(1623,108) scale(0.935,1)" font-size="9.8" fill="#fff" text-anchor="start" stroke="#fff">0.92676</text>
<text transform="translate(1623,136) scale(0.935,1)" font-size="9.8" fill="#fff" text-anchor="start" stroke="#fff">0.92551</text>
<text transform="translate(1623,175) scale(0.935,1)" font-size="9.8" fill="#fff" text-anchor="start" stroke="#fff">0.92377</text>
<text transform="translate(1623,207) scale(0.935,1)" font-size="9.8" fill="#fff" text-anchor="start" stroke="#fff">0.92234</text>
<text transform="translate(1623,235) scale(0.935,1)" font-size="9.8" fill="#fff" text-anchor="start" stroke="#fff">0.92109</text>
<text transform="translate(1623,164) scale(0.935,1)" font-size="9.8" fill="#fff" text-anchor="start" stroke="#fff">0.92431</text>
<rect x="8" y="34" width="7" height="1" fill="#000" shape-rendering="crispEdges"/>
<rect x="9" y="35" width="5" height="1" fill="#000" shape-rendering="crispEdges"/>
<rect x="10" y="36" width="3" height="1" fill="#000" shape-rendering="crispEdges"/>
<rect x="11" y="37" width="1" height="1" fill="#000" shape-rendering="crispEdges"/>
<text transform="translate(19.8,38.5) scale(0.935,1)" font-size="9.8" fill="#000" text-anchor="start" textLength="62.9" lengthAdjust="spacingAndGlyphs">USDCHF-,H4</text>
<text transform="translate(83.6,38.5) scale(0.935,1)" font-size="9.8" fill="#000" text-anchor="start" textLength="151.5" lengthAdjust="spacingAndGlyphs">0.92397 0.92524 0.92318 0.92431</text>
<rect x="1289" y="28" width="9" height="1" fill="#000" shape-rendering="crispEdges"/>
<rect x="1290" y="29" width="7" height="1" fill="#000" shape-rendering="crispEdges"/>
<rect x="1291" y="30" width="5" height="1" fill="#000" shape-rendering="crispEdges"/>
<rect x="1292" y="31" width="3" height="1" fill="#000" shape-rendering="crispEdges"/>
<rect x="1293" y="32" width="1" height="1" fill="#000" shape-rendering="crispEdges"/>
<line x1="1224" y1="289" x2="1305" y2="199" stroke="#e8151f" stroke-width="3.2"/>
<path d="M1314.5 188 L1296.5 195.5 L1309.5 207 z" fill="#e8151f"/>
<g shape-rendering="crispEdges">
<rect x="5" y="635" width="2" height="10" fill="#00ff00"/>
<rect x="20" y="635" width="3" height="10" fill="#00ff00"/>
<rect x="36" y="634" width="3" height="11" fill="#00ff00"/>
<rect x="52" y="632" width="3" height="13" fill="#00ff00"/>
<rect x="68" y="633" width="3" height="12" fill="#00ff00"/>
<rect x="84" y="638" width="3" height="7" fill="#00ff00"/>
<rect x="100" y="642" width="3" height="3" fill="#00ff00"/>
<rect x="116" y="645" width="3" height="3" fill="#00ff00"/>
<rect x="132" y="645" width="3" height="7" fill="#00ff00"/>
<rect x="148" y="645" width="3" height="10" fill="#00ff00"/>
<rect x="164" y="645" width="3" height="12" fill="#00ff00"/>
<rect x="180" y="645" width="3" height="8" fill="#00ff00"/>
<rect x="196" y="645" width="3" height="7" fill="#00ff00"/>
<rect x="212" y="645" width="3" height="4" fill="#00ff00"/>
<rect x="228" y="645" width="3" height="3" fill="#00ff00"/>
<rect x="244" y="644" width="3" height="1" fill="#00ff00"/>
<rect x="260" y="642" width="3" height="3" fill="#00ff00"/>
<rect x="276" y="639" width="3" height="6" fill="#00ff00"/>
<rect x="292" y="640" width="3" height="5" fill="#00ff00"/>
<rect x="308" y="641" width="3" height="4" fill="#00ff00"/>
<rect x="324" y="641" width="3" height="4" fill="#00ff00"/>
<rect x="340" y="639" width="3" height="6" fill="#00ff00"/>
<rect x="356" y="640" width="3" height="5" fill="#00ff00"/>
<rect x="372" y="639" width="3" height="6" fill="#00ff00"/>
<rect x="388" y="634" width="3" height="11" fill="#00ff00"/>
<rect x="404" y="631" width="3" height="14" fill="#00ff00"/>
<rect x="420" y="629" width="3" height="16" fill="#00ff00"/>
<rect x="436" y="627" width="3" height="18" fill="#00ff00"/>
<rect x="452" y="624" width="3" height="21" fill="#00ff00"/>
<rect x="468" y="633" width="3" height="12" fill="#00ff00"/>
<rect x="484" y="643" width="3" height="2" fill="#00ff00"/>
<rect x="500" y="645" width="3" height="6" fill="#00ff00"/>
<rect x="516" y="645" width="3" height="12" fill="#00ff00"/>
<rect x="532" y="645" width="3" height="17" fill="#00ff00"/>
<rect x="548" y="645" width="3" height="21" fill="#00ff00"/>
<rect x="564" y="645" width="3" height="26" fill="#00ff00"/>
<rect x="580" y="645" width="3" height="35" fill="#00ff00"/>
<rect x="596" y="645" width="3" height="45" fill="#00ff00"/>
<rect x="612" y="645" width="3" height="52" fill="#00ff00"/>
<rect x="628" y="645" width="3" height="56" fill="#00ff00"/>
<rect x="644" y="645" width="3" height="57" fill="#00ff00"/>
<rect x="660" y="645" width="3" height="57" fill="#00ff00"/>
<rect x="676" y="645" width="3" height="51" fill="#00ff00"/>
<rect x="692" y="645" width="3" height="46" fill="#00ff00"/>
<rect x="708" y="645" width="3" height="41" fill="#00ff00"/>
<rect x="724" y="645" width="3" height="36" fill="#00ff00"/>
<rect x="740" y="645" width="3" height="33" fill="#00ff00"/>
<rect x="756" y="645" width="3" height="18" fill="#00ff00"/>
<rect x="772" y="645" width="3" height="3" fill="#00ff00"/>
<rect x="788" y="634" width="3" height="11" fill="#00ff00"/>
<rect x="804" y="624" width="3" height="21" fill="#00ff00"/>
<rect x="820" y="616" width="3" height="29" fill="#00ff00"/>
<rect x="836" y="611" width="3" height="34" fill="#00ff00"/>
<rect x="852" y="604" width="3" height="41" fill="#00ff00"/>
<rect x="868" y="600" width="3" height="45" fill="#00ff00"/>
<rect x="884" y="597" width="3" height="48" fill="#00ff00"/>
<rect x="900" y="597" width="3" height="48" fill="#00ff00"/>
<rect x="916" y="598" width="3" height="47" fill="#00ff00"/>
<rect x="932" y="598" width="3" height="47" fill="#00ff00"/>
<rect x="948" y="603" width="3" height="42" fill="#00ff00"/>
<rect x="964" y="609" width="3" height="36" fill="#00ff00"/>
<rect x="980" y="616" width="3" height="29" fill="#00ff00"/>
<rect x="996" y="621" width="3" height="24" fill="#00ff00"/>
<rect x="1012" y="629" width="3" height="16" fill="#00ff00"/>
<rect x="1028" y="634" width="3" height="11" fill="#00ff00"/>
<rect x="1044" y="637" width="3" height="8" fill="#00ff00"/>
<rect x="1060" y="640" width="3" height="5" fill="#00ff00"/>
<rect x="1076" y="642" width="3" height="3" fill="#00ff00"/>
<rect x="1092" y="644" width="3" height="1" fill="#00ff00"/>
<rect x="1108" y="645" width="3" height="3" fill="#00ff00"/>
<rect x="1124" y="645" width="3" height="5" fill="#00ff00"/>
<rect x="1140" y="645" width="3" height="7" fill="#00ff00"/>
<rect x="1156" y="645" width="3" height="4" fill="#00ff00"/>
<rect x="1172" y="645" width="3" height="3" fill="#00ff00"/>
<rect x="1188" y="643" width="3" height="2" fill="#00ff00"/>
<rect x="1204" y="643" width="3" height="2" fill="#00ff00"/>
<rect x="1220" y="642" width="3" height="3" fill="#00ff00"/>
<rect x="1236" y="639" width="3" height="6" fill="#00ff00"/>
<rect x="1252" y="637" width="3" height="8" fill="#00ff00"/>
</g>
<polyline points="5.5,643.8 21.4,642.6 37.3,640.0 53.2,638.3 69.4,637.3 85.3,636.5 93.3,635.8 101.4,636.0 117.3,637.3 133.5,638.5 149.3,640.3 165.2,643.1 181.1,645.6 197.3,647.1 213.2,649.4 229.1,649.6 245.2,649.6 261.1,649.6 277.2,649.4 293.1,647.6 309.3,645.1 325.2,644.1 341.1,643.1 357.2,642.1 373.1,640.8 389.3,639.5 400.0,639.2 405.5,638.7 421.4,637.7 437.3,636.4 453.2,634.4 469.4,633.4 485.3,633.4 501.4,634.2 517.3,635.7 533.5,638.5 549.3,642.7 565.2,648.0 581.1,653.3 597.3,661.9 613.2,668.7 629.1,674.5 645.2,680.6 661.1,685.6 677.2,688.7 693.1,691.2 702.7,692.7 709.3,692.7 725.2,692.7 741.1,692.4 757.2,688.9 773.1,683.1 789.3,675.3 800.0,669.2 805.5,666.7 821.4,657.4 837.3,648.5 853.2,639.7 869.4,630.4 885.3,622.6 901.4,614.0 917.3,609.4 933.5,605.2 949.3,603.4 965.2,602.6 974.1,601.9 981.1,601.9 997.3,603.9 1013.2,608.2 1029.1,612.2 1045.2,616.3 1061.1,621.6 1077.2,626.6 1093.1,630.4 1109.3,635.2 1125.2,638.2 1141.1,642.2 1157.2,644.8 1173.1,646.0 1189.3,646.0 1205.1,646.0 1221.5,645.8 1245.0,645.8 1246.0,645.0 1253.5,645.0" fill="none" stroke="#ff0000" stroke-width="2" stroke-linejoin="round"/>
<text transform="translate(8.8,603) scale(0.935,1)" font-size="9.8" fill="#000" text-anchor="start" textLength="158.3" lengthAdjust="spacingAndGlyphs">MACD(12,26,9) 0.000553 0.000064</text>
<text transform="translate(1621.1,600.8) scale(0.935,1)" font-size="9.8" fill="#000" text-anchor="start">0.003374</text>
<text transform="translate(1621.1,648.8) scale(0.935,1)" font-size="9.8" fill="#000" text-anchor="start">0.00</text>
<text transform="translate(1621.1,703.8) scale(0.935,1)" font-size="9.8" fill="#000" text-anchor="start">-0.003819</text>
<rect x="1618" y="592" width="1" height="1" fill="#000" shape-rendering="crispEdges"/>
<rect x="1618" y="645" width="2" height="1" fill="#000" shape-rendering="crispEdges"/>
<rect x="1618" y="706" width="1" height="1" fill="#000" shape-rendering="crispEdges"/>
<path d="M6 731.5 H1617" stroke="#000" stroke-width="1" stroke-dasharray="3 3" shape-rendering="crispEdges"/>
<path d="M6 761.5 H1617" stroke="#000" stroke-width="1" stroke-dasharray="3 3" shape-rendering="crispEdges"/>
<path d="M6 796.5 H1617" stroke="#000" stroke-width="1" stroke-dasharray="3 3" shape-rendering="crispEdges"/>
<polyline points="5.5,753.4 21.5,756.0 37.5,756.0 53.5,751.4 69.5,758.2 85.5,764.8 101.5,770.8 117.5,772.1 133.5,771.1 149.5,771.1 165.5,769.8 181.5,756.7 197.5,762.0 213.5,762.0 229.5,757.5 245.5,756.0 261.5,756.0 277.5,753.7 293.5,760.8 309.5,761.0 325.5,759.2 341.5,755.7 357.5,762.3 373.5,756.5 389.5,750.2 405.5,750.2 421.5,751.9 437.5,750.7 453.5,748.9 469.5,769.6 485.5,773.6 501.5,772.4 517.5,772.1 533.5,773.6 549.5,773.6 565.5,776.1 581.5,783.5 597.5,785.0 613.5,785.0 629.5,783.5 645.5,779.4 661.5,777.7 677.5,765.8 693.5,765.8 709.5,764.3 725.5,764.0 741.5,765.8 757.5,746.9 773.5,742.8 789.5,742.6 805.5,743.8 821.5,743.3 837.5,742.8 853.5,740.8 869.5,740.8 885.5,741.1 901.5,745.4 917.5,746.9 933.5,745.4 949.5,758.5 965.5,760.2 981.5,762.0 997.5,762.0 1013.5,769.1 1029.5,767.1 1045.5,764.8 1061.5,764.8 1077.5,763.8 1093.5,765.0 1109.5,766.8 1125.5,767.8 1141.5,767.8 1157.5,758.0 1173.5,758.0 1189.5,753.4 1205.5,760.0 1221.5,756.9 1237.5,753.3 1253.5,753.0" fill="none" stroke="#1e90ff" stroke-width="2" stroke-linejoin="round"/>
<text transform="translate(8.8,722) scale(0.935,1)" font-size="9.8" fill="#000" text-anchor="start" textLength="72.8" lengthAdjust="spacingAndGlyphs">RSI(14) 58.3880</text>
<text transform="translate(1621.1,719.8) scale(0.935,1)" font-size="9.8" fill="#000" text-anchor="start">100</text>
<text transform="translate(1621.1,734.8) scale(0.935,1)" font-size="9.8" fill="#000" text-anchor="start">80</text>
<text transform="translate(1621.1,764.8) scale(0.935,1)" font-size="9.8" fill="#000" text-anchor="start">50</text>
<text transform="translate(1621.1,799.8) scale(0.935,1)" font-size="9.8" fill="#000" text-anchor="start">15</text>
<text transform="translate(1621.1,808.8) scale(0.935,1)" font-size="9.8" fill="#000" text-anchor="start">0</text>
<rect x="1618" y="711" width="1" height="1" fill="#000" shape-rendering="crispEdges"/>
<rect x="1618" y="811" width="1" height="1" fill="#000" shape-rendering="crispEdges"/>
<rect x="5" y="813" width="1" height="3" fill="#000" shape-rendering="crispEdges"/>
<text transform="translate(4,825) scale(0.94,1)" font-size="9.8">24 Jan 2023</text>
<rect x="69" y="813" width="1" height="3" fill="#000" shape-rendering="crispEdges"/>
<text transform="translate(68,825) scale(0.94,1)" font-size="9.8">25 Jan 08:00</text>
<rect x="133" y="813" width="1" height="3" fill="#000" shape-rendering="crispEdges"/>
<text transform="translate(132,825) scale(0.94,1)" font-size="9.8">26 Jan 00:00</text>
<rect x="197" y="813" width="1" height="3" fill="#000" shape-rendering="crispEdges"/>
<text transform="translate(196,825) scale(0.94,1)" font-size="9.8">26 Jan 16:00</text>
<rect x="261" y="813" width="1" height="3" fill="#000" shape-rendering="crispEdges"/>
<text transform="translate(260,825) scale(0.94,1)" font-size="9.8">27 Jan 08:00</text>
<rect x="325" y="813" width="1" height="3" fill="#000" shape-rendering="crispEdges"/>
<text transform="translate(324,825) scale(0.94,1)" font-size="9.8">30 Jan 00:00</text>
<rect x="389" y="813" width="1" height="3" fill="#000" shape-rendering="crispEdges"/>
<text transform="translate(388,825) scale(0.94,1)" font-size="9.8">30 Jan 16:00</text>
<rect x="453" y="813" width="1" height="3" fill="#000" shape-rendering="crispEdges"/>
<text transform="translate(452,825) scale(0.94,1)" font-size="9.8">31 Jan 08:00</text>
<rect x="517" y="813" width="1" height="3" fill="#000" shape-rendering="crispEdges"/>
<text transform="translate(516,825) scale(0.94,1)" font-size="9.8">1 Feb 00:00</text>
<rect x="581" y="813" width="1" height="3" fill="#000" shape-rendering="crispEdges"/>
<text transform="translate(580,825) scale(0.94,1)" font-size="9.8">1 Feb 16:00</text>
<rect x="645" y="813" width="1" height="3" fill="#000" shape-rendering="crispEdges"/>
<text transform="translate(644,825) scale(0.94,1)" font-size="9.8">2 Feb 08:00</text>
<rect x="709" y="813" width="1" height="3" fill="#000" shape-rendering="crispEdges"/>
<text transform="translate(708,825) scale(0.94,1)" font-size="9.8">3 Feb 00:00</text>
<rect x="773" y="813" width="1" height="3" fill="#000" shape-rendering="crispEdges"/>
<text transform="translate(772,825) scale(0.94,1)" font-size="9.8">3 Feb 16:00</text>
<rect x="837" y="813" width="1" height="3" fill="#000" shape-rendering="crispEdges"/>
<text transform="translate(836,825) scale(0.94,1)" font-size="9.8">6 Feb 08:00</text>
<rect x="901" y="813" width="1" height="3" fill="#000" shape-rendering="crispEdges"/>
<text transform="translate(900,825) scale(0.94,1)" font-size="9.8">7 Feb 00:00</text>
<rect x="965" y="813" width="1" height="3" fill="#000" shape-rendering="crispEdges"/>
<text transform="translate(964,825) scale(0.94,1)" font-size="9.8">7 Feb 16:00</text>
<rect x="1029" y="813" width="1" height="3" fill="#000" shape-rendering="crispEdges"/>
<text transform="translate(1028,825) scale(0.94,1)" font-size="9.8">8 Feb 08:00</text>
<rect x="1093" y="813" width="1" height="3" fill="#000" shape-rendering="crispEdges"/>
<text transform="translate(1092,825) scale(0.94,1)" font-size="9.8">9 Feb 00:00</text>
<rect x="1157" y="813" width="1" height="3" fill="#000" shape-rendering="crispEdges"/>
<text transform="translate(1156,825) scale(0.94,1)" font-size="9.8">9 Feb 16:00</text>
<rect x="1221" y="813" width="1" height="3" fill="#000" shape-rendering="crispEdges"/>
<text transform="translate(1220,825) scale(0.94,1)" font-size="9.8">10 Feb 08:00</text>
</g>
</svg>
</body></html>
